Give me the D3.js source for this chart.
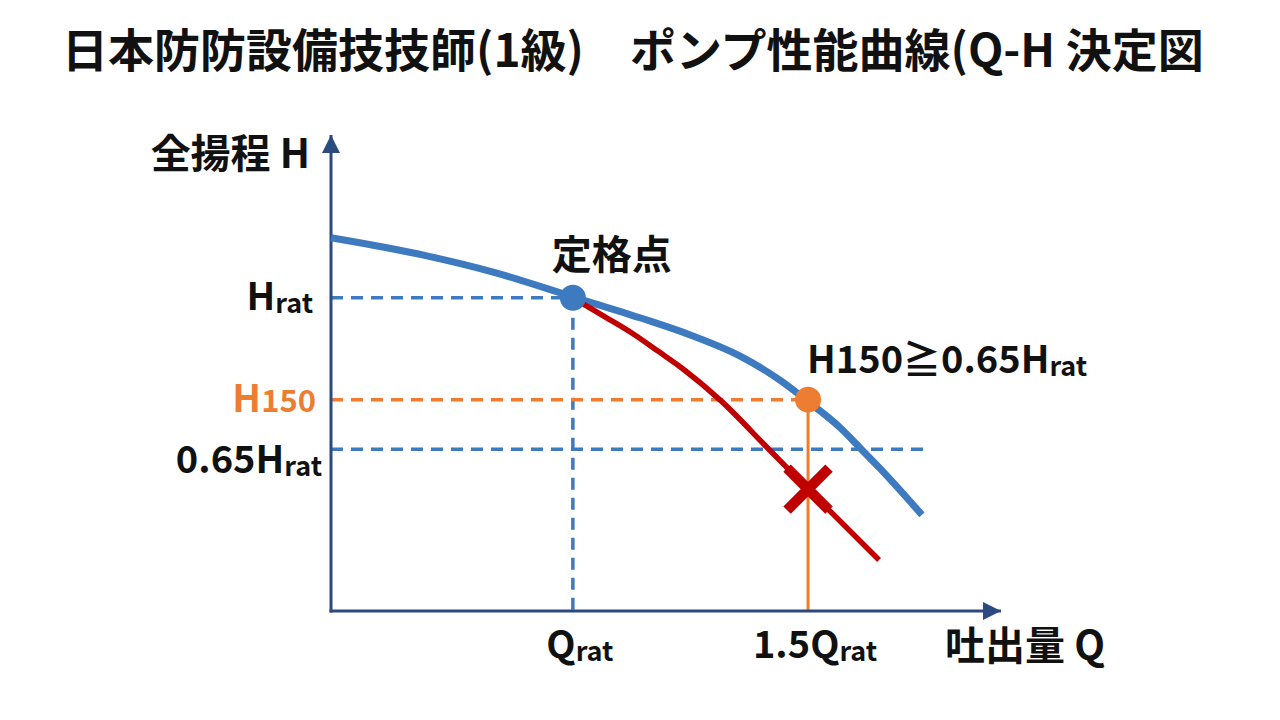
<!DOCTYPE html>
<html><head><meta charset="utf-8">
<script src="https://cdn.jsdelivr.net/npm/d3@7/dist/d3.min.js"></script>
<style>
html,body{margin:0;padding:0;background:#ffffff;}
svg{display:block;}
text{font-family:"Noto Sans CJK JP","Noto Sans",sans-serif;font-weight:700;}
</style></head>
<body>
<svg id="chart" width="1280" height="720"></svg>
<script>
// ---- data (schematic units: Q 0..100, H 0..100) ----
const titleText = "日本防防設備技技師(1級)\u3000ポンプ性能曲線(Q-H 決定図";
const yAxisTitle = "全揚程 H";
const xAxisTitle = "吐出量 Q";
const ratedLabel = "定格点";

const pumpQ = [0, 14.3, 24.2, 36.1, 46.1, 53.6, 61.0, 67.0, 71.3, 76.0, 79.0, 81.9, 88.2];
const pumpH = [78.4, 74.6, 71.2, 66.0, 61.6, 58.0, 53.6, 48.5, 43.9, 38.5, 34.2, 30.0, 20.2];

const failQ = [36.1, 40.9, 44.9, 48.8, 52.4, 58.1, 65.2, 71.2, 81.8];
const failH = [65.8, 61.8, 58.4, 54.6, 51.0, 44.3, 34.2, 25.6, 10.7];

const qRated = 36.1, q150 = 71.2;
const hRated = 65.8, h150 = 44.4, h065 = 34.0;
const dashedLimitQ = 89.5;

const xTickValues = [qRated, q150];
const xTickMain = ["Q", "1.5Q"];
const xTickSub = ["rat", "rat"];

const yTickValues = [hRated, h150, h065];
const yTickMain = ["H", "H", "0.65H"];
const yTickSub = ["rat", "150", "rat"];
const yTickKind = ["sub", "small", "sub"];

const conditionMain = ["H150≧0.65H", "rat"];

// ---- styles ----
const C = {blue:"#3d7abf", red:"#c00000", orange:"#ed7d31", axis:"#2b4a7f", text:"#111111"};

const svg = d3.select("#chart");
const x = d3.scaleLinear().domain([0, 100]).range([331, 1001]);
const y = d3.scaleLinear().domain([0, 100]).range([611, 135]);

// title
svg.append("text").attr("x", 62).attr("y", 67).attr("font-size", 46).attr("fill", C.text).text(titleText);

// arrow marker
const defs = svg.append("defs");
defs.append("marker").attr("id","arr").attr("viewBox","0 0 10 10").attr("refX",10).attr("refY",5)
  .attr("markerWidth",6).attr("markerHeight",6).attr("markerUnits","strokeWidth").attr("orient","auto")
  .append("path").attr("d","M0,0 L10,5 L0,10 Z").attr("fill",C.axis);

// dashed guides
const g = svg.append("g");
g.append("line").attr("x1", x(0)).attr("x2", x(qRated)).attr("y1", y(hRated)).attr("y2", y(hRated))
  .attr("stroke", C.blue).attr("stroke-width", 3.5).attr("stroke-dasharray","12,8");
g.append("line").attr("x1", x(qRated)).attr("x2", x(qRated)).attr("y1", y(hRated)).attr("y2", y(0))
  .attr("stroke", C.blue).attr("stroke-width", 3.5).attr("stroke-dasharray","12,8");
g.append("line").attr("x1", x(0)).attr("x2", x(dashedLimitQ)).attr("y1", y(h065)).attr("y2", y(h065))
  .attr("stroke", C.blue).attr("stroke-width", 3.5).attr("stroke-dasharray","12,8");
g.append("line").attr("x1", x(0)).attr("x2", x(q150)).attr("y1", y(h150)).attr("y2", y(h150))
  .attr("stroke", C.orange).attr("stroke-width", 3.5).attr("stroke-dasharray","12,8");
g.append("line").attr("x1", x(q150)).attr("x2", x(q150)).attr("y1", y(h150)).attr("y2", y(0))
  .attr("stroke", C.orange).attr("stroke-width", 3);

// axes
svg.append("line").attr("x1", x(0)).attr("x2", x(0)).attr("y1", y(0)+1.5).attr("y2", y(100))
  .attr("stroke", C.axis).attr("stroke-width", 3).attr("marker-end","url(#arr)");
svg.append("line").attr("x1", x(0)-1.5).attr("x2", x(100)).attr("y1", y(0)).attr("y2", y(0))
  .attr("stroke", C.axis).attr("stroke-width", 3).attr("marker-end","url(#arr)");

// curves
const line = d3.line().x(d=>x(d[0])).y(d=>y(d[1])).curve(d3.curveMonotoneX);
svg.append("path").datum(pumpQ.map((q,i)=>[q,pumpH[i]])).attr("d", line)
  .attr("fill","none").attr("stroke", C.blue).attr("stroke-width", 7);
svg.append("path").datum(failQ.map((q,i)=>[q,failH[i]])).attr("d", line)
  .attr("fill","none").attr("stroke", C.red).attr("stroke-width", 5.5);

// points
svg.append("circle").attr("cx", x(qRated)).attr("cy", y(hRated)).attr("r", 13).attr("fill", C.blue);
svg.append("circle").attr("cx", x(q150)).attr("cy", y(h150)).attr("r", 13).attr("fill", C.orange);

// X marker on failing curve at 1.5Q
const failAt150 = failH[failQ.indexOf(q150)];
const cx = x(q150), cy = y(failAt150), s = 21;
svg.append("path").attr("d", `M${cx-s},${cy-s}L${cx+s},${cy+s}M${cx-s},${cy+s}L${cx+s},${cy-s}`)
  .attr("stroke", C.red).attr("stroke-width", 10.5).attr("fill","none");

// axis titles
svg.append("text").attr("x", 310).attr("y", 168).attr("text-anchor","end").attr("font-size", 40)
  .attr("fill", C.text).text(yAxisTitle);
svg.append("text").attr("x", 1105).attr("y", 660).attr("text-anchor","end").attr("font-size", 40)
  .attr("fill", C.text).text(xAxisTitle);

// rated point label
svg.append("text").attr("x", x(qRated)+39).attr("y", y(hRated)-29).attr("text-anchor","middle")
  .attr("font-size", 40).attr("fill", C.text).text(ratedLabel);

// y tick labels
yTickValues.forEach((v,i)=>{
  const kind = yTickKind[i];
  const col = kind === "small" ? C.orange : C.text;
  const t = svg.append("text").attr("x", i===2 ? 322 : (i===1 ? 316 : 313))
    .attr("y", y(v) + (i===2 ? 24 : 12)).attr("text-anchor","end").attr("fill", col).attr("font-size", 38);
  t.append("tspan").text(yTickMain[i]);
  if (kind === "sub") t.append("tspan").attr("font-size", 27).attr("dy", 3).text(yTickSub[i]);
  else t.append("tspan").attr("font-size", 31).text(yTickSub[i]);
});

// x tick labels
xTickValues.forEach((v,i)=>{
  const t = svg.append("text").attr("x", x(v) + 7).attr("y", 658).attr("text-anchor","middle")
    .attr("fill", C.text).attr("font-size", 38);
  t.append("tspan").text(xTickMain[i]);
  t.append("tspan").attr("font-size", 27).attr("dy", 3).text(xTickSub[i]);
});

// condition label
const ct = svg.append("text").attr("x", x(q150) - 1).attr("y", 373).attr("fill", C.text).attr("font-size", 38);
ct.append("tspan").text(conditionMain[0]);
ct.append("tspan").attr("font-size", 27).attr("dy", 3).text(conditionMain[1]);
</script>
</body></html>
